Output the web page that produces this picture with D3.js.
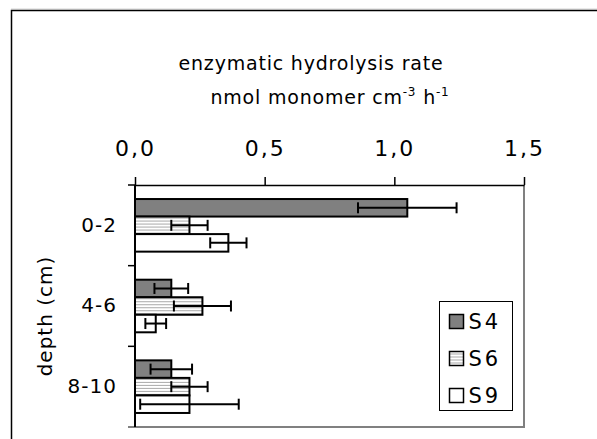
<!DOCTYPE html>
<html>
<head>
<meta charset="utf-8">
<script src="https://cdn.jsdelivr.net/npm/d3@7"></script>
<style>
  body { margin: 0; background: #fff; }
  svg { display: block; font-family: "DejaVu Sans", sans-serif; }
</style>
</head>
<body>
<div id="chart"></div>
<script>
const depths = ["0-2", "4-6", "8-10"];
const stations = ["S4", "S6", "S9"];
// rate per depth, one array per station
const s4Rate = [1.05, 0.14, 0.14];
const s6Rate = [0.21, 0.26, 0.21];
const s9Rate = [0.36, 0.08, 0.21];
// error (half width)
const s4Err = [0.19, 0.065, 0.08];
const s6Err = [0.07, 0.11, 0.07];
const s9Err = [0.07, 0.04, 0.19];
const xTicks = [0, 0.5, 1.0, 1.5];

const W = 597, H = 439;
const margin = { top: 185, right: 73, bottom: 12, left: 135 };
const innerW = W - margin.left - margin.right;
const innerH = H - margin.top - margin.bottom;

const rates = { S4: s4Rate, S6: s6Rate, S9: s9Rate };
const errs = { S4: s4Err, S6: s6Err, S9: s9Err };
const data = depths.flatMap((d, i) => stations.map(s => ({ depth: d, station: s, value: rates[s][i], err: errs[s][i] })));

const svg = d3.select("#chart").append("svg").attr("width", W).attr("height", H);

const defs = svg.append("defs");
const pat = defs.append("pattern").attr("id", "stripes")
  .attr("patternUnits", "userSpaceOnUse").attr("width", 6).attr("height", 3);
pat.append("rect").attr("width", 6).attr("height", 3).attr("fill", "#fff");
pat.append("rect").attr("y", 1).attr("width", 6).attr("height", 1).attr("fill", "#a8a8a8");

const fills = { S4: "#808080", S6: "url(#stripes)", S9: "#fff" };

// outer frame
svg.append("rect").attr("x", 11.5).attr("y", 10.5).attr("width", 700).attr("height", 600)
  .attr("fill", "none").attr("stroke", "#000").attr("stroke-width", 1.5);
svg.append("line").attr("x1", 11).attr("x2", W).attr("y1", 9.2).attr("y2", 9.2)
  .attr("stroke", "#aaa").attr("stroke-width", 0.8);

const g = svg.append("g").attr("transform", `translate(${margin.left},${margin.top})`);

const x = d3.scaleLinear().domain([0, 1.5]).range([0, innerW]);
const y = d3.scaleBand().domain(depths).range([0, innerH]).paddingInner(0).paddingOuter(0);
const inner = d3.scaleBand().domain(stations).range([0, y.bandwidth()]).paddingInner(0).paddingOuter(0.8);

// right and bottom plot border (grey)
g.append("line").attr("x1", innerW).attr("x2", innerW).attr("y1", 0).attr("y2", innerH)
  .attr("stroke", "#808080").attr("stroke-width", 2);
g.append("line").attr("x1", -7).attr("x2", innerW + 1).attr("y1", innerH).attr("y2", innerH)
  .attr("stroke", "#808080").attr("stroke-width", 2);

// top axis
const fmt = d3.format(".1f");
g.append("g")
  .call(d3.axisTop(x).tickValues(xTicks).tickSize(8).tickSizeOuter(0).tickPadding(21)
    .tickFormat(d => fmt(d).replace(".", ",")))
  .call(a => a.selectAll("line,path").attr("stroke", "#000").attr("stroke-width", 1.5))
  .call(a => a.selectAll("text").attr("fill", "#000").style("font-size", "22px")
    .style("font-family", "DejaVu Sans, sans-serif").style("letter-spacing", "2px"));

// left axis: labels at band centres, ticks at band boundaries
const yAxis = g.append("g")
  .call(d3.axisLeft(y).tickSize(0).tickPadding(18))
  .call(a => a.select("path").remove())
  .call(a => a.selectAll("text").attr("fill", "#000").style("font-size", "20px")
    .style("font-family", "DejaVu Sans, sans-serif").style("letter-spacing", "1px"));
yAxis.append("line").attr("x1", 0).attr("x2", 0).attr("y1", 0).attr("y2", innerH)
  .attr("stroke", "#000").attr("stroke-width", 2);
yAxis.selectAll(".bnd").data(depths.map(d => y(d)))
  .join("line").attr("class", "bnd")
  .attr("x1", -7).attr("x2", 0).attr("y1", d => d).attr("y2", d => d)
  .attr("stroke", "#000").attr("stroke-width", 1.5);

// bars
const bars = g.append("g").selectAll("g.bar").data(data).join("g").attr("class", "bar")
  .attr("transform", d => `translate(0,${y(d.depth) + inner(d.station)})`);
bars.append("rect")
  .attr("x", 0).attr("y", 0)
  .attr("width", d => x(d.value)).attr("height", inner.bandwidth())
  .attr("fill", d => fills[d.station]).attr("stroke", "#000").attr("stroke-width", 2);

// error bars
const eb = bars.append("g").attr("stroke", "#000").attr("stroke-width", 2);
const cy = inner.bandwidth() / 2;
eb.append("line").attr("x1", d => x(d.value - d.err)).attr("x2", d => x(d.value + d.err))
  .attr("y1", cy).attr("y2", cy);
eb.append("line").attr("x1", d => x(d.value - d.err)).attr("x2", d => x(d.value - d.err))
  .attr("y1", cy - 5.5).attr("y2", cy + 5.5);
eb.append("line").attr("x1", d => x(d.value + d.err)).attr("x2", d => x(d.value + d.err))
  .attr("y1", cy - 5.5).attr("y2", cy + 5.5);

// titles
svg.append("text").attr("x", 311).attr("y", 70).attr("text-anchor", "middle")
  .style("font-size", "19px").style("letter-spacing", "0.8px").text("enzymatic hydrolysis rate");
const unit = svg.append("text").attr("x", 330).attr("y", 104).attr("text-anchor", "middle")
  .style("font-size", "19px").style("letter-spacing", "0.8px");
unit.append("tspan").text("nmol monomer cm");
unit.append("tspan").attr("dy", -8).style("font-size", "12px").text("-3");
unit.append("tspan").attr("dy", 8).text(" h");
unit.append("tspan").attr("dy", -8).style("font-size", "12px").text("-1");

svg.append("text").attr("transform", "translate(52,316) rotate(-90)")
  .attr("text-anchor", "middle").style("font-size", "20px").style("letter-spacing", "1px").text("depth (cm)");

// legend
const leg = svg.append("g").attr("transform", "translate(439.5,301.5)");
leg.append("rect").attr("width", 73).attr("height", 109).attr("fill", "#fff")
  .attr("stroke", "#000").attr("stroke-width", 1);
const item = leg.selectAll("g.item").data(stations).join("g").attr("class", "item")
  .attr("transform", (d, i) => `translate(10,${20 + i * 37})`);
item.append("rect").attr("x", 0).attr("y", -7).attr("width", 14).attr("height", 14)
  .attr("fill", d => fills[d]).attr("stroke", "#000").attr("stroke-width", 1.5);
item.append("text").attr("x", 19).attr("y", 0).attr("dy", "0.36em")
  .style("font-size", "21px").style("letter-spacing", "3px").text(d => d);
</script>
</body>
</html>
